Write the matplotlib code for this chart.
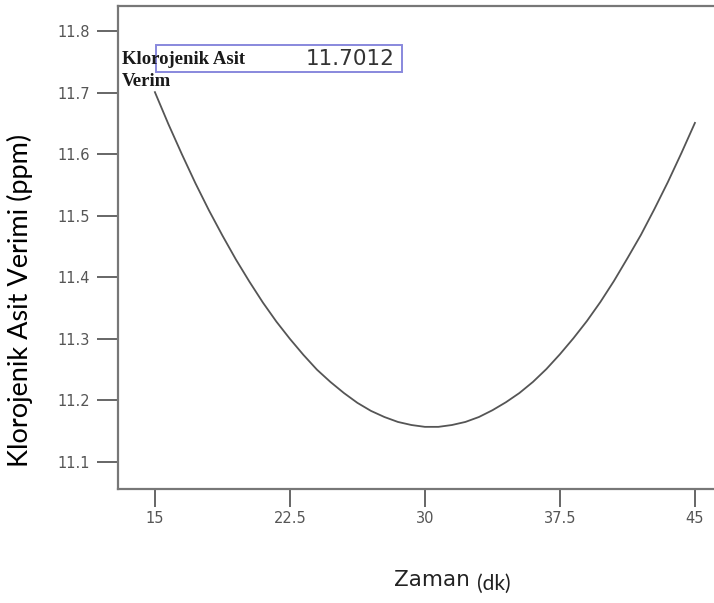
import matplotlib.pyplot as plt
from matplotlib.patches import Rectangle

# values
zaman = [15, 15.75, 16.5, 17.25, 18, 18.75, 19.5, 20.25, 21, 21.75, 22.5,
         23.25, 24, 24.75, 25.5, 26.25, 27, 27.75, 28.5, 29.25, 30, 30.75,
         31.5, 32.25, 33, 33.75, 34.5, 35.25, 36, 36.75, 37.5, 38.25, 39,
         39.75, 40.5, 41.25, 42, 42.75, 43.5, 44.25, 45]
verim = [11.701, 11.649, 11.600, 11.553, 11.509, 11.468, 11.429, 11.393,
         11.359, 11.328, 11.300, 11.274, 11.250, 11.230, 11.212, 11.196,
         11.183, 11.173, 11.165, 11.160, 11.157, 11.157, 11.160, 11.165,
         11.173, 11.184, 11.197, 11.212, 11.230, 11.251, 11.275, 11.301,
         11.329, 11.360, 11.394, 11.431, 11.469, 11.511, 11.555, 11.602,
         11.651]
x_ticks = [15, 22.5, 30, 37.5, 45]
x_labels = ['15', '22.5', '30', '37.5', '45']
y_ticks = [11.1, 11.2, 11.3, 11.4, 11.5, 11.6, 11.7, 11.8]

W, H = 714, 603
fig = plt.figure(figsize=(W / 100, H / 100), dpi=100)
ax = fig.add_axes([118 / W, 1 - 489 / H, 596 / W, 483 / H])

ax.plot(zaman, verim, color='#555555', lw=1.3, solid_joinstyle='round')

ax.set_xlim(12.95, 46.06)
ax.set_ylim(11.056, 11.841)
ax.set_xticks(x_ticks)
ax.set_xticklabels(x_labels)
ax.set_yticks(y_ticks)
ax.set_yticklabels([f'{v:.1f}' for v in y_ticks])

ax.tick_params(direction='out', length=15, width=1.4, color='#666666',
               labelcolor='#555555', labelsize=10.5, pad=5)
ax.tick_params(axis='x', length=13, pad=3)
for pos in ['left', 'bottom', 'top']:
    ax.spines[pos].set_color('#777777')
    ax.spines[pos].set_linewidth(1.6)
ax.spines['right'].set_visible(False)

fig.text(20 / W, 1 - 300 / H, 'Klorojenik Asit Verimi (ppm)', rotation=90,
         ha='center', va='center', fontsize=19.5, family='Lato',
         color='black')
fig.text(470 / W, 1 - 580 / H, 'Zaman', ha='right', va='center',
         fontsize=15.5, color='#222222')
fig.text(477 / W, 1 - 584 / H, '(dk)', ha='left', va='center',
         fontsize=15, family='Lato', color='#222222')

# annotation box
fig.add_artist(Rectangle((156 / W, 1 - 72 / H), 246 / W, 27 / H,
                         transform=fig.transFigure, fill=False,
                         ec='#8888dd', lw=1.4))
fig.text(122 / W, 1 - 60 / H, 'Klorojenik Asit', ha='left', va='center',
         fontsize=13.5, family='Liberation Serif', weight='bold',
         color='#1a1a1a')
fig.text(122 / W, 1 - 81 / H, 'Verim', ha='left', va='center',
         fontsize=13.5, family='Liberation Serif', weight='bold',
         color='#1a1a1a')
fig.text(395 / W, 1 - 59 / H, '11.7012', ha='right', va='center',
         fontsize=15.5, color='#333333')

fig.savefig('out.png', dpi=100)
